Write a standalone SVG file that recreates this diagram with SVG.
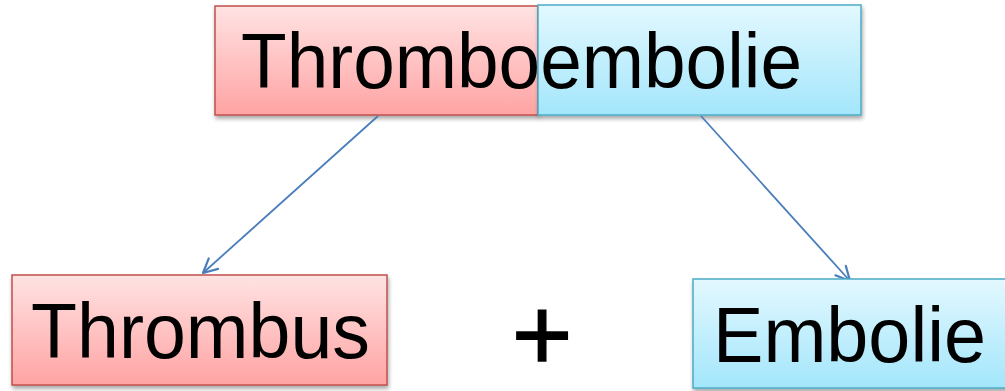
<svg xmlns="http://www.w3.org/2000/svg" width="1005" height="391" viewBox="0 0 1005 391">
<defs>
<linearGradient id="gRed" x1="0" y1="0" x2="0" y2="1">
<stop offset="0" stop-color="#ffe3e3"/>
<stop offset="1" stop-color="#ffa3a3"/>
</linearGradient>
<linearGradient id="gBlue" x1="0" y1="0" x2="0" y2="1">
<stop offset="0" stop-color="#e3f8ff"/>
<stop offset="1" stop-color="#a3e6fb"/>
</linearGradient>
<filter id="sh" x="-10%" y="-10%" width="120%" height="130%">
<feGaussianBlur in="SourceAlpha" stdDeviation="2"/>
<feOffset dx="1" dy="3" result="b"/>
<feComponentTransfer><feFuncA type="linear" slope="0.35"/></feComponentTransfer>
<feMerge><feMergeNode/><feMergeNode in="SourceGraphic"/></feMerge>
</filter>
<marker id="arr" viewBox="0 0 20 20" refX="18" refY="10" markerWidth="20" markerHeight="20" markerUnits="userSpaceOnUse" orient="auto">
<path d="M4,3 L18,10 L4,17" fill="none" stroke="#4a7ebb" stroke-width="2.2" stroke-linecap="round" stroke-linejoin="round"/>
</marker>
<style>
.red{fill:url(#gRed);stroke:#c0504d;stroke-width:1.5;filter:url(#sh)}
.blue{fill:url(#gBlue);stroke:#4bacc6;stroke-width:1.5;filter:url(#sh)}
.t{font-family:"Liberation Sans",Arial,sans-serif;font-size:77px;fill:#000}
.p{font-family:"Liberation Sans",Arial,sans-serif;font-size:104px;fill:#000;stroke:#000;stroke-width:1.4}
.c{fill:none;stroke:#4a7ebb;stroke-width:1.8;marker-end:url(#arr)}
</style>
</defs>
<g id="top-thrombo">
<rect class="red" x="215" y="6" width="323" height="109"/>
</g>
<g id="top-embolie">
<rect class="blue" x="538" y="5" width="323" height="110"/>
</g>
<text class="t" x="241" y="88" textLength="561" lengthAdjust="spacingAndGlyphs">Thromboembolie</text>
<g id="connectors">
<line class="c" x1="378" y1="116" x2="203" y2="273"/>
<line class="c" x1="701" y1="116" x2="850" y2="281"/>
</g>
<g id="thrombus">
<rect class="red" x="12" y="275" width="375" height="110"/>
<text class="t" x="31" y="358" textLength="339" lengthAdjust="spacingAndGlyphs">Thrombus</text>
</g>
<g id="plus">
<text class="p" x="542" y="370" text-anchor="middle">+</text>
</g>
<g id="embolie">
<rect class="blue" x="693" y="279" width="320" height="109"/>
<text class="t" x="713" y="362" textLength="273" lengthAdjust="spacingAndGlyphs">Embolie</text>
</g>
</svg>
